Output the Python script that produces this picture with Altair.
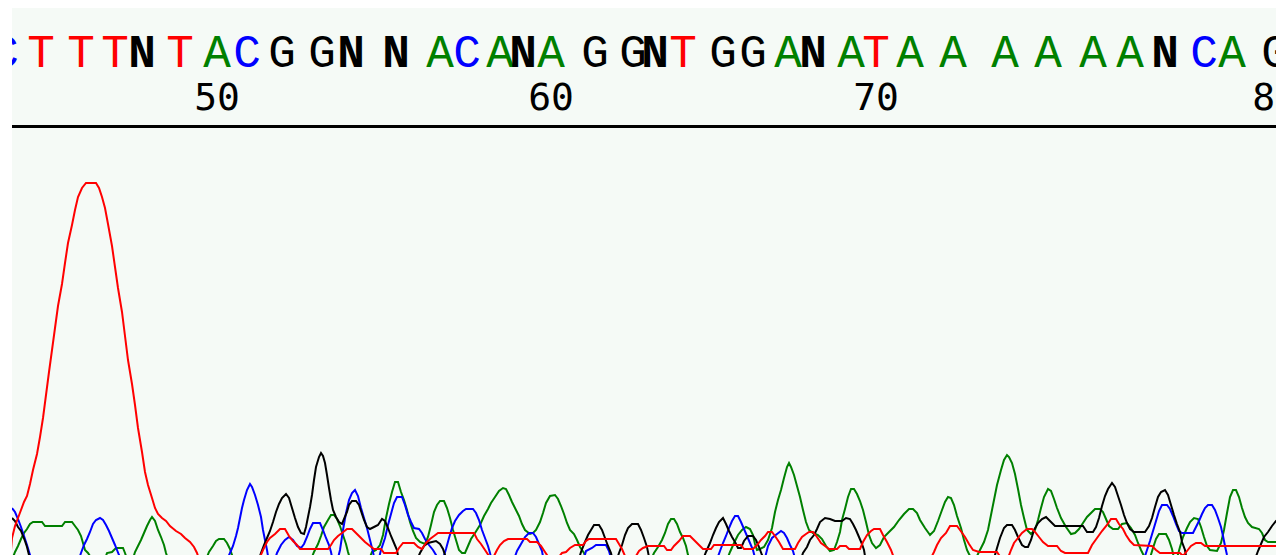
import altair as alt
import pandas as pd

# ---- base calls (scan position of each called base) ----
base_letters = ["C","T","T","T","N","T","A","C","G","G","N","N","A","C","A","N","A",
                "G","G","N","T","G","G","A","N","A","T","A","A","A","A","A","A","N",
                "C","A","G"]
base_scan = [5, 41, 81, 115, 142, 180, 217, 247, 282, 322, 351, 396, 440, 467, 500,
             523, 551, 595, 633, 655, 683, 723, 753, 788, 813, 851, 876, 910, 953,
             1005, 1048, 1093, 1130, 1165, 1204, 1232, 1275]

tick_labels = ["50", "60", "70", "80"]
tick_scan = [217, 551, 876, 1275]

# ---- trace data (scan, signal) ----
red_scan = [10,12,15,18,21,24,27,30,33,37,40,43,46,49,52,55,58,62,65,68,72,75,78,82,86,96,99,102,105,
            108,112,115,118,122,125,128,132,135,138,142,145,148,152,155,158,162,166,170,176,181,185,190,
            194,197,200,
            258,263,267,270,275,280,285,289,293,297,300,328,331,334,338,342,347,352,357,361,365,370,374,
            381,384,396,399,403,414,418,422,426,430,434,438,474,477,481,485,489,494,497,500,504,508,527,
            530,537,541,545,549,558,562,566,570,575,583,586,589,616,619,622,625,636,639,643,648,664,667,
            671,674,679,683,690,694,698,703,711,714,741,744,753,757,761,765,768,772,775,779,783,795,798,
            802,806,809,813,817,821,825,829,837,840,846,849,860,863,867,871,874,880,883,887,891,894,931,
            934,937,941,946,950,957,960,965,969,973,979,997,1001,1008,1011,1014,1018,1022,1027,1032,1035,
            1039,1043,1048,1057,1061,1065,1088,1092,1097,1102,1107,1111,1116,1119,1123,1126,1130,1134,
            1152,1156,1160,1180,1183,1187,1191,1196,1201,1205,1284]
red_signal = [-7,17,29,37,45,53,59,71,85,101,118,137,160,183,205,227,249,271,292,312,330,345,358,367,372,
              372,367,358,347,331,309,288,267,243,219,195,171,150,127,103,83,70,57,47,41,37,34,29,24,21,17,
              13,8,2,-7,
              -7,5,13,17,21,26,26,19,14,10,6,6,10,15,19,22,26,26,21,17,13,9,6,6,2,2,7,12,12,8,6,12,16,19,
              22,22,16,11,5,-1,-1,5,10,14,16,16,13,13,9,3,-3,-3,2,3,7,10,10,14,16,16,11,6,-1,-1,4,7,9,9,5,
              5,9,14,19,19,15,11,6,6,10,10,6,6,10,15,19,23,23,19,13,6,6,12,18,21,23,23,18,12,9,6,6,9,9,6,6,
              13,20,24,26,26,20,13,5,-3,-3,3,10,17,22,29,29,25,18,11,5,3,3,-3,-3,5,12,17,22,26,26,23,18,13,
              9,9,4,2,2,10,17,24,30,36,36,31,26,20,14,10,9,5,2,2,-1,4,9,12,12,9,9]

green_scan = [12,15,18,21,24,27,30,33,42,45,62,65,72,75,78,81,83,85,88,90,93,
              104,107,112,116,123,125,128,
              132,135,138,141,144,147,150,152,155,158,161,164,166,169,
              205,209,213,216,219,224,227,230,232,235,
              310,314,318,321,324,328,331,334,337,340,343,346,348,351,
              368,372,376,380,383,386,389,392,395,398,401,404,407,410,413,416,420,425,428,431,434,437,440,
              444,447,450,453,456,459,462,465,468,471,475,480,484,488,491,495,499,503,506,509,512,515,519,
              522,525,530,533,536,540,543,546,550,555,558,561,564,567,570,574,577,580,584,587,
              650,654,658,662,665,668,671,674,677,680,683,686,688,691,
              726,730,734,738,742,746,750,753,755,757,760,764,768,772,775,778,781,784,787,789,791,794,797,
              800,803,806,809,813,818,822,826,830,834,837,840,842,845,848,851,854,857,860,863,866,869,872,
              876,880,884,889,894,899,904,909,913,917,920,925,930,934,938,942,945,948,951,954,957,961,964,
              967,970,976,980,984,988,991,994,997,1001,1004,1007,1009,1012,1015,1018,1021,1024,1027,1031,
              1035,1038,1041,1044,1048,1051,1054,1057,1061,1066,1071,1075,1079,1083,1087,1091,1095,1100,
              1103,1106,1109,1113,1118,1122,1127,1131,1135,1138,1141,1144,1150,1153,1156,1159,1166,1169,
              1172,1174,1177,1180,1183,1187,1190,1194,1198,1201,1204,1207,1210,1217,1221,1224,1227,1230,
              1233,1236,1239,1242,1245,1248,1252,1259,1262,1265,1268,1284]
green_signal = [-5,3,9,16,22,26,31,33,33,29,29,33,33,29,25,19,12,5,2,-1,-7,
                -7,2,3,7,7,2,-7,
                -7,3,9,15,22,29,35,38,34,25,18,10,2,-7,
                -7,3,9,14,16,16,12,6,0,-7,
                -7,3,11,19,28,35,40,40,36,29,20,11,3,-7,
                -7,3,5,10,20,37,51,63,73,73,63,55,45,33,24,17,13,11,18,30,43,50,54,54,47,37,25,15,5,2,2,9,
                16,22,30,39,46,52,58,64,67,66,60,53,47,39,31,25,21,22,25,33,42,52,59,60,56,49,41,32,25,21,
                15,8,2,-7,
                -7,2,8,15,22,31,36,36,31,23,17,9,0,-7,
                -7,3,12,20,25,28,26,20,11,5,6,8,15,27,43,55,65,77,88,92,88,80,69,58,45,33,25,22,20,16,9,4,
                5,13,23,35,46,58,66,66,61,54,45,33,20,12,7,10,18,23,28,35,41,46,46,42,35,27,20,24,34,45,
                53,58,57,50,39,27,15,5,-1,-3,5,13,25,40,55,70,85,95,100,98,92,81,66,50,37,25,21,25,35,47,
                58,66,64,56,47,37,28,21,22,26,32,38,42,46,46,43,36,29,26,26,31,32,27,20,12,5,-1,-3,7,16,
                21,21,15,6,-3,-3,8,18,27,33,37,36,28,18,9,5,4,12,25,42,58,65,65,58,47,38,32,28,26,22,15,
                13,13]

blue_scan = [12,15,18,21,24,27,30,33,
             78,81,84,87,90,93,96,100,103,106,109,112,115,117,119,122,
             226,230,233,236,238,240,242,244,247,250,252,255,258,261,263,265,267,269,
             274,277,281,285,289,293,297,301,304,307,310,313,320,323,326,329,331,333,
             337,340,343,346,349,352,355,358,361,364,367,370,373,375,
             378,381,385,388,391,394,397,402,405,408,411,414,419,422,425,429,433,436,439,
             442,446,449,452,455,459,463,466,473,476,479,482,485,488,490,492,
             513,517,521,525,529,533,536,539,542,544,
             583,586,592,596,606,609,612,
             716,720,723,726,729,732,735,738,741,744,747,750,753,756,
             764,768,772,777,781,784,787,790,793,796,
             1143,1147,1150,1153,1156,1159,1162,1167,1170,1173,1176,1179,1182,1193,1196,1199,1202,1205,
             1208,1212,1215,1218,1221,1223,1225,1227,1229,1284]
blue_signal = [47,43,36,28,19,10,0,-7,
               -7,2,10,16,23,31,35,37,35,30,24,17,10,5,0,-7,
               -7,2,9,19,27,37,47,55,65,71,68,60,50,38,25,15,5,-7,
               -7,2,10,15,18,15,9,7,11,18,26,32,32,25,17,10,3,-7,
               -7,5,25,42,55,62,65,59,47,37,27,15,3,-7,
               -7,5,17,30,41,52,58,58,50,40,33,27,26,22,16,10,5,0,-7,
               -7,6,17,27,34,40,44,46,46,42,35,25,17,9,2,-7,
               -7,4,11,18,22,22,18,11,4,-7,
               -7,4,7,10,10,4,-7,
               -7,4,12,19,27,34,39,39,33,26,19,12,5,-7,
               -7,9,17,21,24,22,17,10,4,-7,
               -7,5,14,24,34,44,50,50,46,39,31,24,22,22,28,34,41,47,50,50,45,37,28,19,9,0,-7,-7]

black_scan = [12,15,18,21,23,25,27,29,32,
              258,261,264,267,270,273,276,279,282,286,289,292,295,298,301,304,306,308,310,312,314,316,
              319,321,323,325,327,329,331,333,336,339,342,344,347,349,352,356,359,361,364,367,370,374,
              378,382,385,388,391,394,397,399,
              416,420,424,428,436,440,443,445,447,
              578,581,585,588,591,594,599,602,605,608,611,613,
              616,619,622,625,628,632,638,641,644,647,650,
              702,706,710,713,716,719,723,726,729,732,735,738,741,744,748,753,756,759,762,765,
              800,803,807,810,814,817,820,825,830,835,842,846,850,853,856,859,862,864,866,
              993,997,1000,1004,1007,1012,1015,1018,1022,1025,1028,1031,1034,1038,1042,1046,1050,1055,
              1083,1087,1093,1096,1099,1102,1105,1108,1112,1115,1118,1121,1124,1127,1130,1134,1145,1149,
              1152,1155,1158,1161,1165,1168,1171,1174,1177,1180,1182,1185,1187,
              1254,1258,1261,1264,1268,1272,1276,1280,1284]
black_signal = [37,34,28,24,19,14,8,0,-7,
                -7,2,10,17,24,33,43,51,57,61,57,47,37,28,22,21,28,38,48,60,75,88,98,102,99,92,80,67,55,45,
                38,33,31,36,43,50,54,54,50,44,35,28,26,28,30,36,34,27,19,12,5,-7,
                -7,2,9,12,14,11,6,0,-7,
                -7,3,13,20,25,30,30,25,17,9,2,-7,
                -7,2,10,20,27,31,31,25,17,8,-7,
                -7,3,12,20,27,33,37,31,24,18,13,7,7,14,19,19,15,8,0,-7,
                -7,2,8,15,20,26,33,37,36,34,34,37,36,31,25,18,11,5,-7,
                -7,7,17,27,30,30,25,18,10,8,8,15,25,32,36,38,34,29,29,23,23,28,37,49,59,66,72,68,59,50,
                40,32,26,23,23,29,37,48,58,63,65,60,50,40,31,23,13,5,-7,
                -7,4,11,18,23,29,34,37,40]

traces = pd.concat([
    pd.DataFrame({"scan": green_scan, "signal": green_signal, "base": "A"}),
    pd.DataFrame({"scan": blue_scan, "signal": blue_signal, "base": "C"}),
    pd.DataFrame({"scan": black_scan, "signal": black_signal, "base": "G"}),
    pd.DataFrame({"scan": red_scan, "signal": red_signal, "base": "T"}),
], ignore_index=True)

bases = pd.DataFrame({"scan": base_scan, "base": base_letters})
ticks = pd.DataFrame({"scan": tick_scan, "label": tick_labels})

W, H = 1264, 547
xscale = alt.Scale(domain=[12, 1276], nice=False, zero=False)
yscale = alt.Scale(domain=[0, 547], nice=False, zero=False)
cscale = alt.Scale(domain=["A", "C", "G", "T", "N"],
                   range=["#008000", "#0000ff", "#000000", "#ff0000", "#000000"])

def trace_layer(b):
    return alt.Chart(traces).transform_filter(alt.datum.base == b).mark_line(
        strokeWidth=2, clip=True, interpolate="linear"
    ).encode(
        x=alt.X("scan:Q", scale=xscale, axis=None),
        y=alt.Y("signal:Q", scale=yscale, axis=None),
        color=alt.Color("base:N", scale=cscale, legend=None),
        order=alt.Order("scan:Q"),
    )

letters = alt.Chart(bases).transform_filter(alt.datum.base != "N").mark_text(
    font="Liberation Mono", fontSize=46, baseline="alphabetic", align="center", clip=True
).encode(
    x=alt.X("scan:Q", scale=xscale, axis=None),
    y=alt.value(59),
    text="base:N",
    color=alt.Color("base:N", scale=cscale, legend=None),
)
letters_n = alt.Chart(bases).transform_filter(alt.datum.base == "N").mark_text(
    font="Liberation Mono", fontSize=46, fontWeight="bold", baseline="alphabetic",
    align="center", clip=True
).encode(
    x=alt.X("scan:Q", scale=xscale, axis=None),
    y=alt.value(59),
    text="base:N",
    color=alt.Color("base:N", scale=cscale, legend=None),
)
numbers = alt.Chart(ticks).mark_text(
    font="DejaVu Sans Mono", fontSize=38, baseline="alphabetic", align="center",
    clip=True, color="black"
).encode(
    x=alt.X("scan:Q", scale=xscale, axis=None),
    y=alt.value(102),
    text="label:N",
)
rule = alt.Chart(alt.Data(values=[{"a": 1}])).mark_rule(color="black", strokeWidth=3).encode(
    x=alt.value(0), x2=alt.value(W), y=alt.value(118.5)
)

chart = alt.layer(
    trace_layer("A"), trace_layer("C"), trace_layer("G"), trace_layer("T"),
    rule, letters, letters_n, numbers
).properties(
    width=W, height=H,
    padding={"left": 4, "top": 0, "right": 0, "bottom": 0},
    autosize=alt.AutoSizeParams(type="none"),
).configure_view(stroke=None, fill="#f5faf6")

chart.save("out.html", embed_options={"renderer": "svg", "actions": False})
